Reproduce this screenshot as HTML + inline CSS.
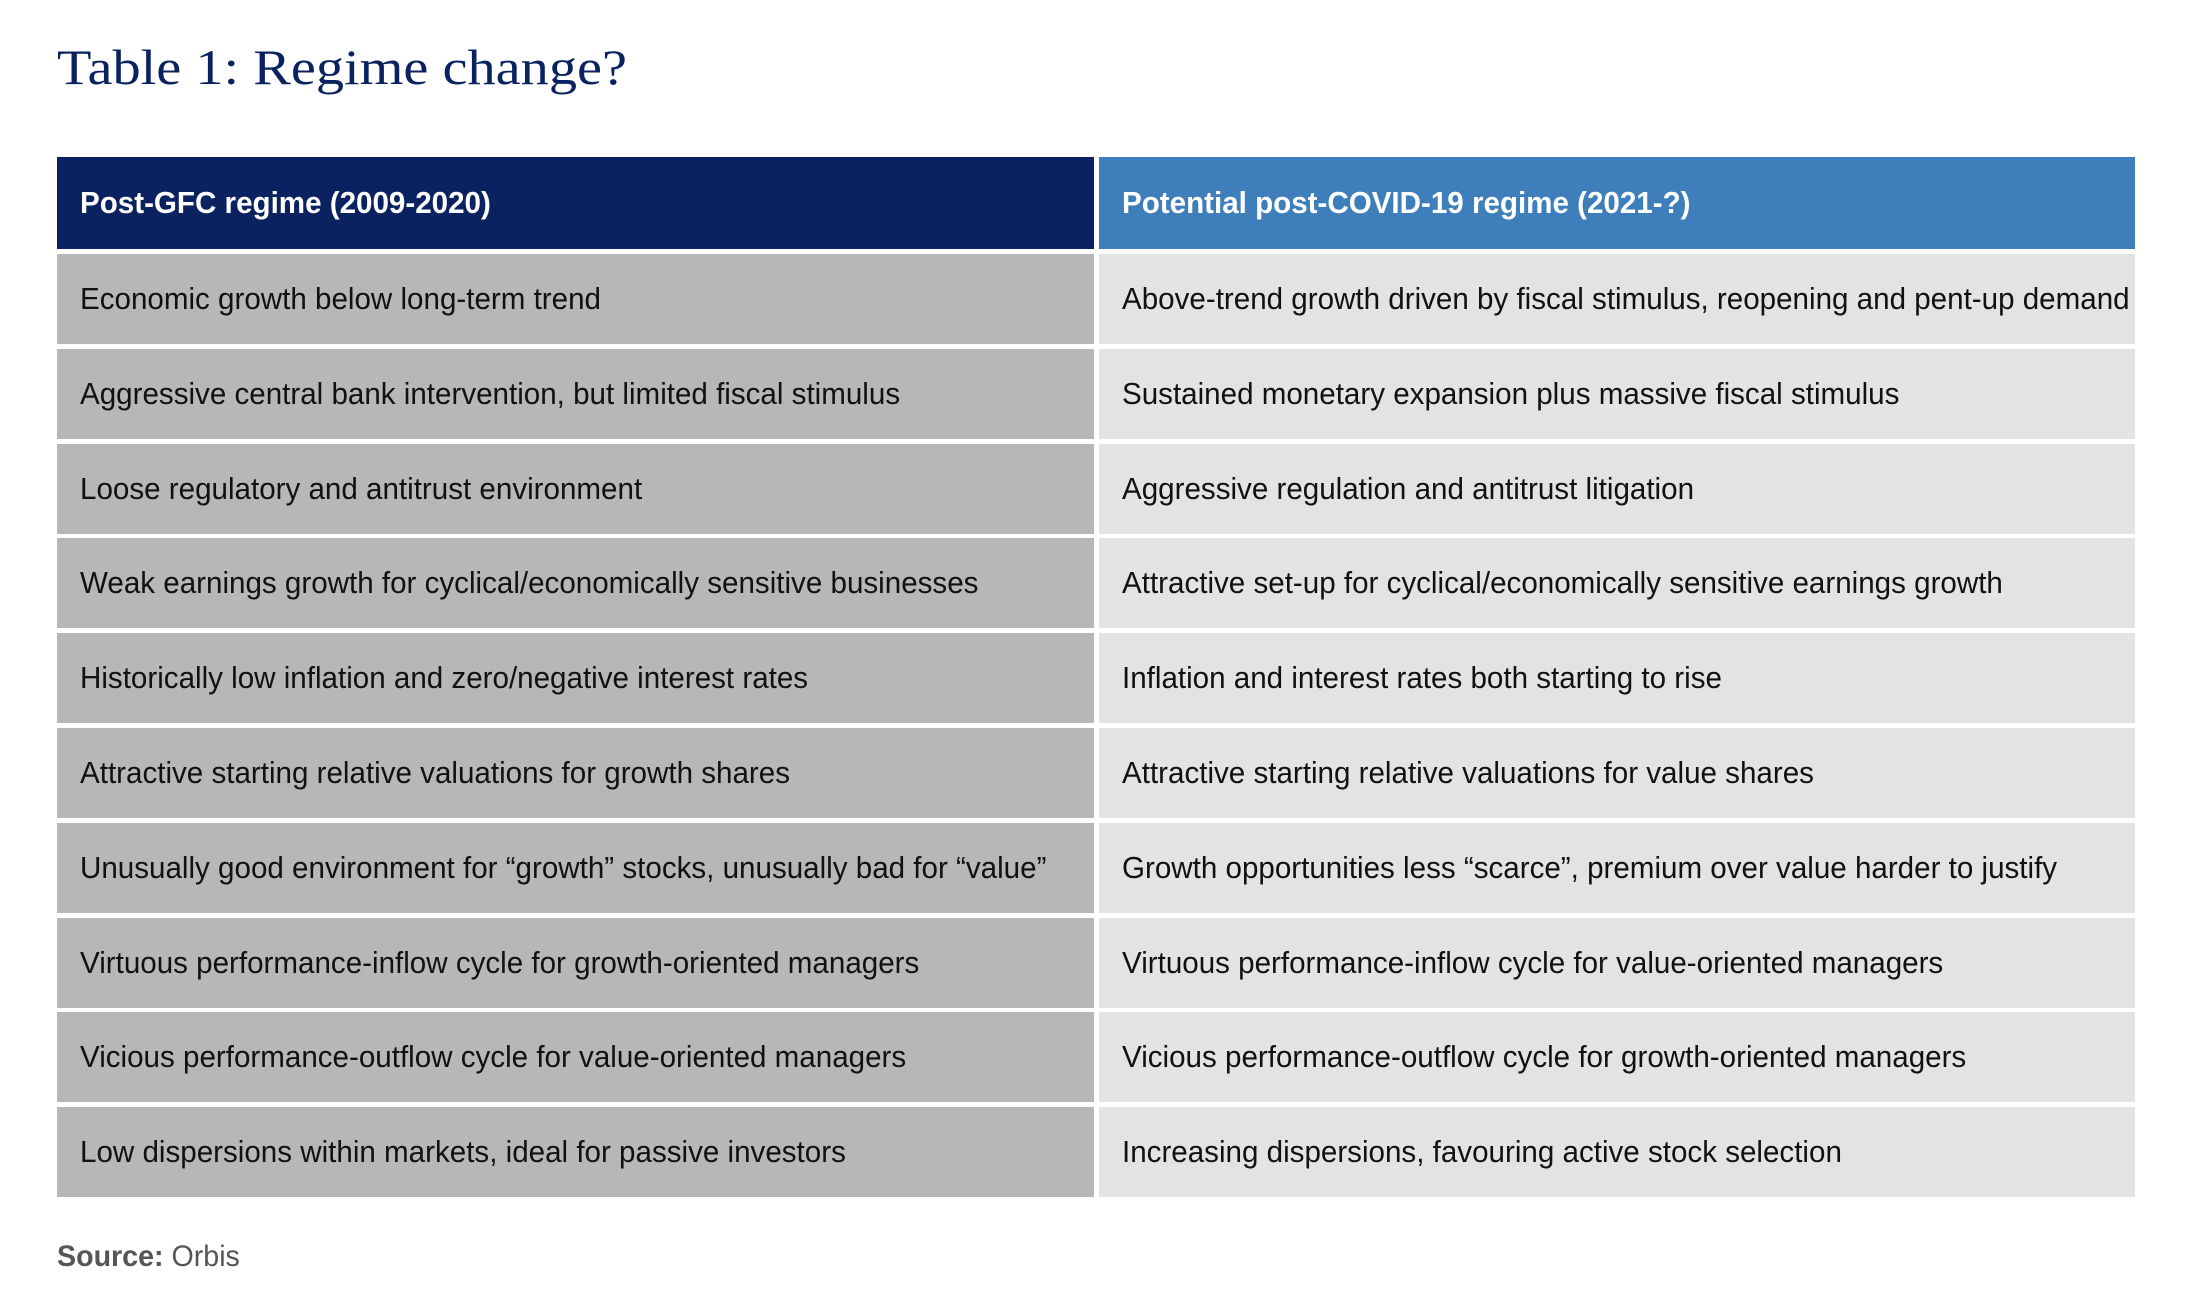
<!DOCTYPE html>
<html><head><meta charset="utf-8"><style>
body{margin:0;width:2196px;height:1309px;background:#fff;position:relative;overflow:hidden;font-family:"Liberation Sans Narrow","Liberation Sans",sans-serif}
#title{position:absolute;left:57px;top:38px;font-family:"Liberation Serif",serif;font-size:50px;color:#0a2360;white-space:nowrap}
.cell{position:absolute;box-sizing:border-box;padding-left:23px;display:flex;align-items:center;font-size:31px;color:#111;white-space:nowrap}
.cell span{display:inline-block;transform-origin:left center}
.hl{background:#0a2360;color:#fff;font-weight:bold}
.hr{background:#3d7ebb;color:#fff;font-weight:bold}
.l{background:#b7b7b9}
.r{background:#e3e3e3}
#src{position:absolute;left:57px;top:1240px;font-size:30px;color:#555;white-space:nowrap}
</style></head><body>
<div id="title">Table 1: Regime change?</div>
<div id="tbl"></div>
<div id="src"><span><b>Source:</b> Orbis</span></div>
<script>
const headers=["Post-GFC regime (2009-2020)","Potential post-COVID-19 regime (2021-?)"];
const leftCol=["Economic growth below long-term trend","Aggressive central bank intervention, but limited fiscal stimulus","Loose regulatory and antitrust environment","Weak earnings growth for cyclical/economically sensitive businesses","Historically low inflation and zero/negative interest rates","Attractive starting relative valuations for growth shares","Unusually good environment for \u201cgrowth\u201d stocks, unusually bad for \u201cvalue\u201d","Virtuous performance-inflow cycle for growth-oriented managers","Vicious performance-outflow cycle for value-oriented managers","Low dispersions within markets, ideal for passive investors"];
const rightCol=["Above-trend growth driven by fiscal stimulus, reopening and pent-up demand","Sustained monetary expansion plus massive fiscal stimulus","Aggressive regulation and antitrust litigation","Attractive set-up for cyclical/economically sensitive earnings growth","Inflation and interest rates both starting to rise","Attractive starting relative valuations for value shares","Growth opportunities less \u201cscarce\u201d, premium over value harder to justify","Virtuous performance-inflow cycle for value-oriented managers","Vicious performance-outflow cycle for growth-oriented managers","Increasing dispersions, favouring active stock selection"];
const tbl=document.getElementById('tbl');
const L=57,SPLIT=1094,R2=1099,RIGHT=2135,HT=157,HH=92,RT=254,RH=90,PITCH=94.8;
function cell(cls,x,y,w,h,t,name){
 const d=document.createElement('div');d.className='cell '+cls;
 d.style.left=x+'px';d.style.top=y+'px';d.style.width=w+'px';d.style.height=h+'px';
 
 
 const s=document.createElement('span');s.textContent=t;d.appendChild(s);tbl.appendChild(d);return s;}
const spans=[];
spans.push(cell('hl',L,HT,SPLIT-L,HH,headers[0],'header-post-gfc'));
spans.push(cell('hr',R2,HT,RIGHT-R2,HH,headers[1],'header-post-covid'));
leftCol.forEach((t,i)=>{const y=RT+i*PITCH;
 spans.push(cell('l',L,y,SPLIT-L,RH,t,'row-'+(i+1)+'-post-gfc'));
 spans.push(cell('r',R2,y,RIGHT-R2,RH,rightCol[i],'row-'+(i+1)+'-post-covid'));});
const ref=spans[2].getBoundingClientRect().width;
const k=521/ref;
spans.forEach(s=>s.style.transform='scaleX('+k+')');
const ss=document.querySelector('#src span');ss.style.display='inline-block';ss.style.transformOrigin='left center';ss.style.transform='scaleX('+k+')';
const tt=document.getElementById('title');const tw=tt.getBoundingClientRect().width;
tt.style.transformOrigin='left top';tt.style.transform='scaleX('+(570/tw)+')';
</script>
</body></html>
